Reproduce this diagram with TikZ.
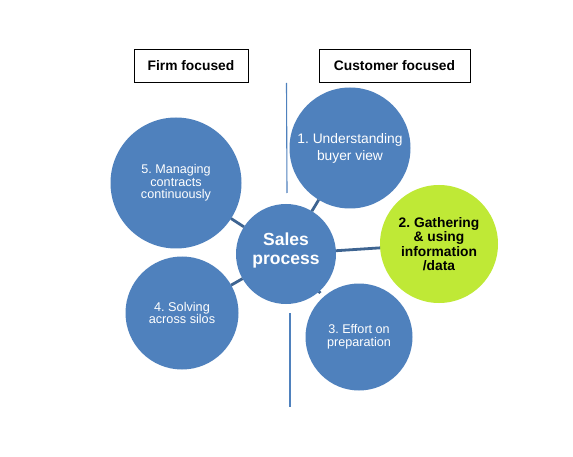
\documentclass[tikz,border=0pt]{standalone}
\usepackage{fontspec}
\setmainfont{Liberation Sans}
\frenchspacing
\definecolor{cblue}{RGB}{79,129,189}
\definecolor{cgreen}{RGB}{191,233,54}
\definecolor{clink}{RGB}{62,100,145}
\tikzset{
  bubble/.style={circle, fill=cblue, draw=none, inner sep=0pt, outer sep=0pt, text=white, align=center},
  label box/.style={draw=black, line width=0.9pt, minimum height=33pt, inner sep=0pt, font=\bfseries\fontsize{13.8}{16}\selectfont},
  link/.style={draw=clink, line width=2.8pt},
  divider/.style={draw=cblue, line width=1.1pt}
}
\begin{document}
\begin{tikzpicture}[x=1pt,y=-1pt]
\useasboundingbox[fill=white] (0,0) rectangle (573,457);
% boxes
\node[label box, minimum width=114pt] (firm) at (191,65.5) {Firm focused};
\node[label box, minimum width=151pt] (cust) at (394.5,65.5) {Customer focused};
% divider lines
\coordinate (d1) at (286.5,83);
\coordinate (d2) at (287,193);
\coordinate (d3) at (290,313);
\coordinate (d4) at (290,407);
\draw[divider] (d1) -- (d2);
\draw[divider] (d3) -- (d4);
% circles
\node[bubble, minimum size=100pt] (c0) at (286,254) {};
\node[text=white, align=center, font=\bfseries\fontsize{17.5}{19}\selectfont] (t0) at (286,250) {Sales\\process};
\node[bubble, minimum size=121pt, font=\fontsize{13.8}{17}\selectfont] (c1) at (350,148) {1. Understanding\\buyer view};
\node[bubble, fill=cgreen, text=black, minimum size=118pt, font=\bfseries\fontsize{13.8}{14.5}\selectfont] (c2) at (439,244) {2. Gathering\\\& using\\information\\/data};
\node[bubble, minimum size=107pt, font=\fontsize{12.6}{12.7}\selectfont] (c3) at (359,337) {3. Effort on\\preparation};
\node[bubble, minimum size=113pt, font=\fontsize{12.7}{12.7}\selectfont] (c4) at (182,313) {4. Solving\\across silos};
\node[bubble, minimum size=131pt, font=\fontsize{12.6}{12.5}\selectfont] (c5) at (176,183) {5. Managing\\contracts\\continuously};
% connectors
\draw[link] (c0) -- (c1);
\draw[link] (c0) -- (c2);
\draw[link, shorten >=5pt] (c0) -- (c3);
\draw[link] (c0) -- (c4);
\draw[link] (c0) -- (c5);
\end{tikzpicture}
\end{document}
